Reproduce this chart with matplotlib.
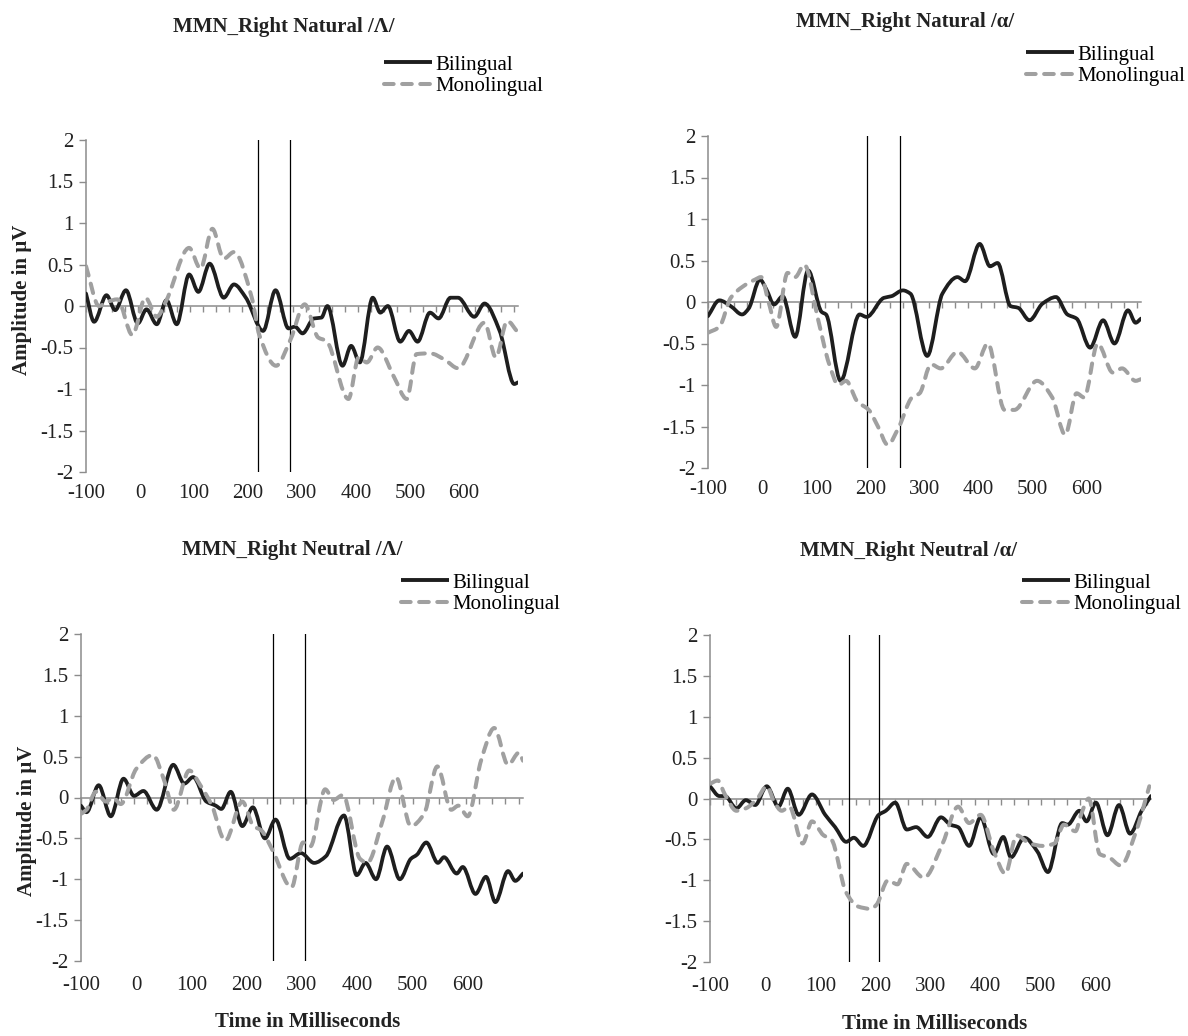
import numpy as np
import matplotlib
matplotlib.use("Agg")
import matplotlib.pyplot as plt
from matplotlib.path import Path
from matplotlib.patches import PathPatch
from matplotlib.lines import Line2D

plt.rcParams['font.family'] = ['Liberation Serif', 'DejaVu Serif']
plt.rcParams['axes.unicode_minus'] = False

# ---------------- data (time in ms, amplitude in microvolts) ----------------
x_tick_labels = [-100, 0, 100, 200, 300, 400, 500, 600]
y_tick_values = [-2, -1.5, -1, -0.5, 0, 0.5, 1, 1.5, 2]
series_names = ["Bilingual", "Monolingual"]
titles = ["MMN_Right Natural /\u039b/", "MMN_Right Natural /\u03b1/",
          "MMN_Right Neutral /\u039b/", "MMN_Right Neutral /\u03b1/"]
window_lines = [[218, 278], [194, 255], [247, 305], [152, 207]]

nat_L_bi_t = [-100, -85, -62, -46, -26, -4, 12, 31, 49, 68, 91, 108, 129, 155, 174, 196, 228, 251, 275, 287,
              301, 322, 336, 347, 375, 391, 407, 431, 445, 459, 482, 498, 514, 537, 553, 575, 589, 619, 638,
              666, 693, 700]
nat_L_bi = [0.15, -0.19, 0.13, -0.05, 0.19, -0.21, -0.04, -0.22, 0.07, -0.22, 0.38, 0.17, 0.51, 0.10, 0.26,
            0.10, -0.30, 0.19, -0.27, -0.25, -0.33, -0.15, -0.14, 0.0, -0.72, -0.48, -0.68, 0.10, -0.08, 0.0,
            -0.43, -0.30, -0.43, -0.08, -0.15, 0.10, 0.10, -0.13, 0.03, -0.30, -0.94, -0.92]
nat_L_mo_t = [-100, -76, -60, -42, -14, 10, 31, 49, 91, 112, 134, 155, 174, 207, 221, 252, 279, 305, 330,
              345, 386, 405, 420, 440, 470, 494, 512, 537, 565, 589, 638, 659, 680, 700]
nat_L_mo = [0.48, 0.0, 0.05, 0.08, -0.35, 0.10, -0.13, 0.07, 0.70, 0.45, 0.93, 0.57, 0.65, 0.10, -0.35,
            -0.72, -0.40, 0.02, -0.38, -0.42, -1.12, -0.62, -0.68, -0.50, -0.85, -1.12, -0.58, -0.57, -0.65,
            -0.75, -0.20, -0.62, -0.18, -0.32]

nat_a_bi_t = [-100, -79, -58, -37, -25, -4, 8, 22, 38, 61, 85, 110, 118, 145, 180, 193, 225, 239, 260, 274,
              305, 333, 361, 375, 402, 421, 435, 459, 473, 494, 518, 543, 564, 581, 606, 630, 651, 676, 690,
              700]
nat_a_bi = [-0.17, 0.02, -0.05, -0.15, -0.08, 0.27, 0.15, -0.03, 0.07, -0.42, 0.38, -0.12, -0.15, -0.95,
            -0.15, -0.18, 0.05, 0.07, 0.14, 0.10, -0.65, 0.10, 0.30, 0.25, 0.70, 0.43, 0.47, -0.05, -0.07,
            -0.22, -0.02, 0.06, -0.15, -0.20, -0.55, -0.22, -0.50, -0.10, -0.25, -0.20]
nat_a_mo_t = [-100, -79, -58, -37, -13, -2, 12, 26, 47, 61, 78, 103, 124, 141, 155, 176, 197, 214, 232, 253,
              277, 291, 312, 330, 361, 393, 417, 448, 466, 508, 536, 560, 581, 595, 620, 648, 665, 690, 700]
nat_a_mo = [-0.37, -0.30, 0.05, 0.18, 0.27, 0.30, 0.0, -0.30, 0.35, 0.30, 0.45, -0.20, -0.75, -1.00, -0.95,
            -1.20, -1.30, -1.50, -1.72, -1.50, -1.15, -1.10, -0.75, -0.80, -0.60, -0.80, -0.50, -1.30, -1.30,
            -0.95, -1.15, -1.60, -1.10, -1.15, -0.50, -0.85, -0.80, -0.95, -0.93]

neu_L_bi_t = [-100, -90, -68, -46, -23, -4, 13, 37, 67, 87, 103, 127, 144, 154, 171, 192, 211, 233, 252, 278,
              298, 322, 343, 376, 399, 415, 434, 454, 477, 497, 508, 525, 546, 557, 580, 591, 614, 633, 650,
              673, 686, 700]
neu_L_bi = [-0.10, -0.18, 0.15, -0.23, 0.23, 0.02, 0.08, -0.15, 0.40, 0.17, 0.25, -0.05, -0.10, -0.14, 0.07,
            -0.35, -0.12, -0.50, -0.27, -0.75, -0.68, -0.80, -0.72, -0.22, -0.95, -0.80, -1.00, -0.60, -1.00,
            -0.75, -0.70, -0.55, -0.80, -0.73, -0.93, -0.85, -1.18, -0.97, -1.28, -0.90, -1.02, -0.93]
neu_L_mo_t = [-100, -90, -73, -55, -42, -28, 0, 30, 51, 68, 96, 116, 137, 161, 192, 212, 226, 247, 281, 302,
              315, 342, 357, 374, 405, 418, 446, 470, 497, 521, 545, 570, 583, 600, 624, 648, 673, 693, 700]
neu_L_mo = [-0.20, -0.15, 0.07, -0.05, 0.0, -0.08, 0.35, 0.52, 0.20, -0.15, 0.33, 0.15, -0.10, -0.53, -0.05,
            -0.35, -0.40, -0.65, -1.10, -0.55, -0.60, 0.10, -0.03, 0.03, -0.75, -0.80, -0.28, 0.25, -0.35,
            -0.20, 0.38, -0.15, -0.10, -0.23, 0.45, 0.85, 0.40, 0.55, 0.45]

neu_a_bi_t = [-100, -83, -73, -52, -35, -18, 3, 24, 41, 61, 85, 109, 127, 147, 161, 178, 206, 219, 236, 257,
              274, 295, 319, 336, 350, 370, 391, 415, 432, 446, 470, 494, 513, 539, 549, 570, 583, 600, 621,
              642, 662, 683, 700]
neu_a_bi = [0.15, 0.03, 0.03, -0.12, -0.02, -0.08, 0.15, -0.10, 0.12, -0.20, 0.05, -0.20, -0.35, -0.53,
            -0.48, -0.58, -0.20, -0.15, -0.05, -0.38, -0.35, -0.47, -0.23, -0.32, -0.35, -0.58, -0.23, -0.68,
            -0.47, -0.72, -0.48, -0.65, -0.90, -0.30, -0.32, -0.15, -0.28, -0.05, -0.45, -0.08, -0.43, -0.15,
            0.03]
neu_a_mo_t = [-100, -86, -73, -52, -35, -14, 3, 17, 30, 44, 68, 85, 106, 120, 147, 168, 192, 202, 223, 240,
              257, 288, 322, 350, 370, 391, 415, 436, 456, 480, 504, 525, 542, 563, 573, 587, 607, 624, 645,
              673, 697]
neu_a_mo = [0.18, 0.22, 0.05, -0.15, -0.12, 0.0, 0.15, -0.05, -0.15, -0.10, -0.55, -0.28, -0.45, -0.50,
            -1.15, -1.32, -1.35, -1.30, -1.00, -1.05, -0.80, -0.97, -0.55, -0.10, -0.30, -0.20, -0.65, -0.92,
            -0.45, -0.55, -0.58, -0.55, -0.32, -0.40, -0.20, 0.00, -0.68, -0.72, -0.82, -0.40, 0.15]

panels_data = [
    ((nat_L_bi_t, nat_L_bi), (nat_L_mo_t, nat_L_mo)),
    ((nat_a_bi_t, nat_a_bi), (nat_a_mo_t, nat_a_mo)),
    ((neu_L_bi_t, neu_L_bi), (neu_L_mo_t, neu_L_mo)),
    ((neu_a_bi_t, neu_a_bi), (neu_a_mo_t, neu_a_mo)),
]

# ---------------- layout (pixels) ----------------
W, H = 1188, 1036
# axes box: left, right, top(y=2), bottom(y=-2)
boxes = [(86, 518, 140, 472), (708, 1141, 136, 468), (81, 523, 634, 961), (710, 1151, 635, 962)]
title_pos = [(284, 27), (905, 22), (292, 550), (908, 551)]
legend_pos = [(384, 55), (1026, 45), (401, 573), (1022, 573)]
ylabel_pos = [(22, 300), None, (27, 821), None]
xlabel_pos = [None, None, (308, 1022), (935, 1024)]
xlabel_pad = [9, 9, 11, 11]

BLACK = '#1e1e1e'
GRAY = '#a0a0a0'
AXIS = '#8c8c8c'
FS = 15

fig = plt.figure(figsize=(W / 100, H / 100), dpi=100)


def smooth_path(t, v):
    t = np.asarray(t, float)
    v = np.asarray(v, float)
    n = len(t)
    h = np.diff(t)
    d = np.diff(v) / h
    m = np.zeros(n)
    m[0] = d[0]
    m[-1] = d[-1]
    for i in range(1, n - 1):
        if d[i - 1] * d[i] <= 0:
            m[i] = 0.0
        else:
            w1 = 2 * h[i] + h[i - 1]
            w2 = h[i] + 2 * h[i - 1]
            m[i] = (w1 + w2) / (w1 / d[i - 1] + w2 / d[i])
    verts = [(t[0], v[0])]
    codes = [Path.MOVETO]
    for i in range(n - 1):
        hh = h[i]
        verts += [(t[i] + hh / 3, v[i] + m[i] * hh / 3),
                  (t[i + 1] - hh / 3, v[i + 1] - m[i + 1] * hh / 3),
                  (t[i + 1], v[i + 1])]
        codes += [Path.CURVE4] * 3
    return Path(verts, codes)


DASH = (0, (2.4, 2.1))

for k in range(4):
    l, r, tp, bt = boxes[k]
    ax = fig.add_axes([l / W, 1 - bt / H, (r - l) / W, (bt - tp) / H])
    ax.set_xlim(-100, 700)
    ax.set_ylim(-2, 2)
    ax.patch.set_alpha(0)
    for s in ('top', 'right'):
        ax.spines[s].set_visible(False)
    ax.spines['left'].set_color(AXIS)
    ax.spines['left'].set_linewidth(1.1)
    ax.spines['bottom'].set_position(('data', 0))
    ax.spines['bottom'].set_color(AXIS)
    ax.spines['bottom'].set_linewidth(1.1)
    ax.set_xticks(np.arange(-100, 700, 24))
    ax.tick_params(axis='x', direction='out', length=4.5, width=1.0, color=AXIS, labelbottom=False)
    ax.set_yticks(y_tick_values)
    ax.set_yticklabels([('%g' % v) for v in y_tick_values])
    ax.tick_params(axis='y', direction='out', length=5, width=1.0, color=AXIS, labelsize=FS, pad=4,
                   labelcolor='#222222')
    sec = ax.secondary_xaxis('bottom')
    sec.set_xticks(x_tick_labels)
    sec.set_xticklabels([str(v) for v in x_tick_labels])
    sec.tick_params(length=0, labelsize=FS, pad=xlabel_pad[k], labelcolor='#222222')
    sec.spines['bottom'].set_visible(False)

    for xv in window_lines[k]:
        ax.axvline(xv, color='black', lw=0.9, zorder=3)

    (bt_t, bt_v), (mo_t, mo_v) = panels_data[k]
    p1 = PathPatch(smooth_path(bt_t, bt_v), fill=False, edgecolor=BLACK, lw=2.7,
                   transform=ax.transData, zorder=4, capstyle='round', joinstyle='round')
    ax.add_patch(p1)
    p2 = PathPatch(smooth_path(mo_t, mo_v), fill=False, edgecolor=GRAY, lw=2.9, linestyle=DASH,
                   transform=ax.transData, zorder=5, capstyle='round', joinstyle='round')
    ax.add_patch(p2)

    h1 = Line2D([], [], color=BLACK, lw=2.8, solid_capstyle='butt')
    h2 = Line2D([], [], color=GRAY, lw=2.9, linestyle=DASH, dash_capstyle='round')
    lx, ly = legend_pos[k]
    ax.legend([h1, h2], series_names, loc='upper left', bbox_to_anchor=(lx / W, 1 - ly / H),
              bbox_transform=fig.transFigure, frameon=False, fontsize=FS, handlelength=2.3,
              handletextpad=0.15, labelspacing=0.1, borderpad=0, borderaxespad=0)

    tx, ty = title_pos[k]
    fig.text(tx / W, 1 - ty / H, titles[k], ha='center', va='center', fontsize=FS,
             fontweight='bold', color='#222222')
    if ylabel_pos[k]:
        yx, yy = ylabel_pos[k]
        fig.text(yx / W, 1 - yy / H, 'Amplitude in \u00b5V', rotation=90, ha='center', va='center',
                 fontsize=FS, fontweight='bold', color='#222222')
    if xlabel_pos[k]:
        xx, xy = xlabel_pos[k]
        fig.text(xx / W, 1 - xy / H, 'Time in Milliseconds', ha='center', va='center',
                 fontsize=FS, fontweight='bold', color='#222222')

fig.savefig('out.png', dpi=100, facecolor='white')
